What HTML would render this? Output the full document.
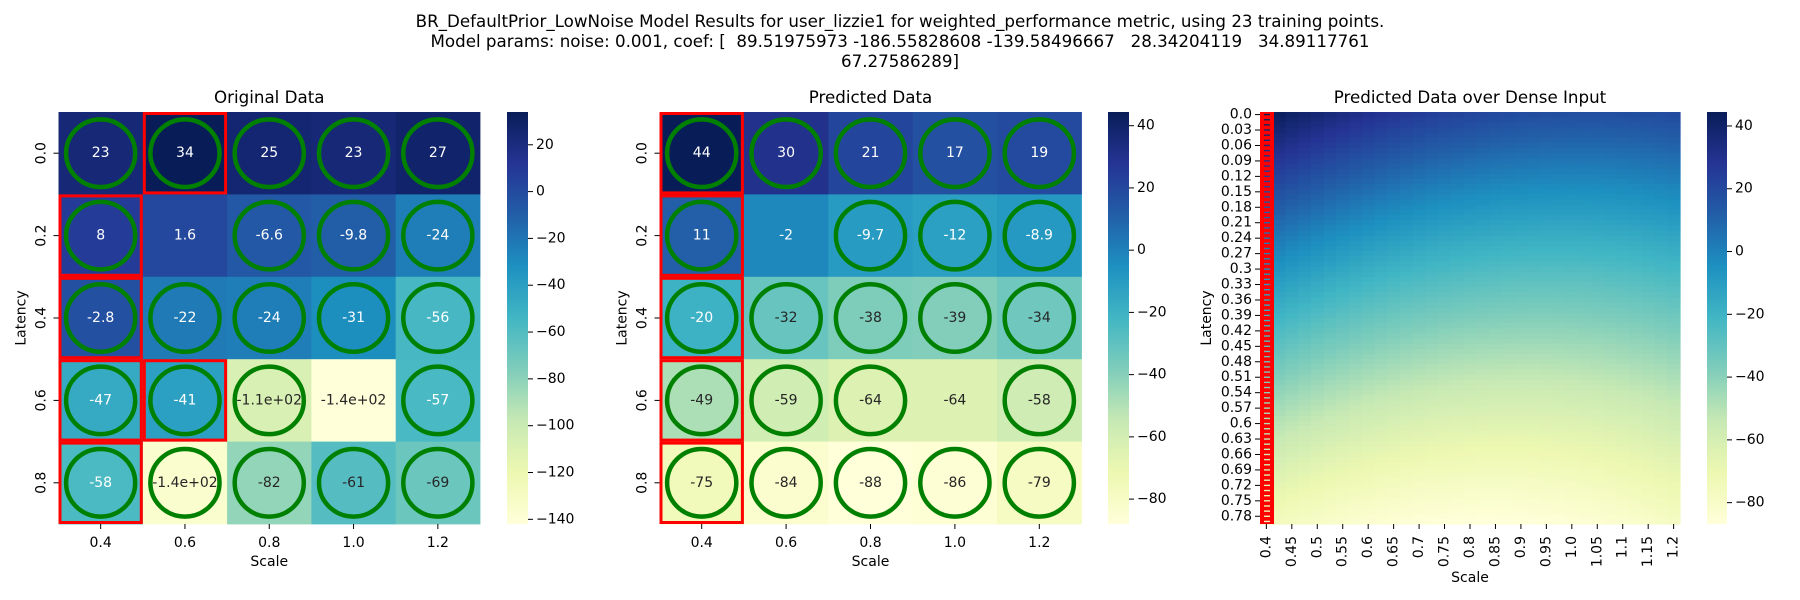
<!DOCTYPE html>
<html><head><meta charset="utf-8">
<style>
html,body{margin:0;padding:0;background:#fff;}
svg{display:block;font-family:"DejaVu Sans","Liberation Sans",sans-serif;}
</style></head>
<body>
<svg id="fig" width="1800" height="600" viewBox="0 0 1800 600" xmlns="http://www.w3.org/2000/svg">
<rect width="1800" height="600" fill="#fff"/>
<g font-size="16.7" text-anchor="middle" fill="#000">
<text x="900" y="27">BR_DefaultPrior_LowNoise Model Results for user_lizzie1 for weighted_performance metric, using 23 training points.</text>
<text x="900" y="47" xml:space="preserve">Model params: noise: 0.001, coef: [  89.51975973 -186.55828608 -139.58496667   28.34204119   34.89117761</text>
<text x="900" y="67">67.27586289]</text>
</g>
<g id="p1"></g>
<g id="p2"></g>
<g id="p3"></g>
</svg>
<script>
const scales = [0.4, 0.6, 0.8, 1.0, 1.2];
const latencies = [0.0, 0.2, 0.4, 0.6, 0.8];
const origValues = [
  [23, 34, 25, 23, 27],
  [8, 1.6, -6.6, -9.8, -24],
  [-2.8, -22, -24, -31, -56],
  [-47, -41, -108, -142, -57],
  [-58, -136, -82, -61, -69]
];
const predValues = [
  [44.4, 30, 21, 17, 19],
  [11, -2, -9.7, -12, -8.9],
  [-20, -32, -38, -39, -34],
  [-49, -59, -64, -64, -58],
  [-75, -84, -88, -86, -79]
];
const circleMask = [
  [1,1,1,1,1],
  [1,0,1,1,1],
  [1,1,1,1,1],
  [1,1,1,0,1],
  [1,1,1,1,1]
];
const origRedCells = [[0,1],[1,0],[2,0],[3,0],[3,1],[4,0]];
const predRedCells = [[0,0],[1,0],[2,0],[3,0],[4,0]];
const origCbTicks = [20, 0, -20, -40, -60, -80, -100, -120, -140];
const predCbTicks = [40, 20, 0, -20, -40, -60, -80];
const modelCoef = [89.51975973, -186.55828608, -139.58496667, 28.34204119, 34.89117761, 67.27586289];
const denseLatStep = 0.01, denseLatCount = 80;
const denseScaleStart = 0.4, denseScaleStep = 0.025, denseScaleCount = 33;

const NS = "http://www.w3.org/2000/svg";
const cmapStops = ["#ffffd9","#edf8b1","#c7e9b4","#7fcdbb","#41b6c4","#1d91c0","#225ea8","#253494","#081d58"];
function hex2rgb(h){return [parseInt(h.slice(1,3),16),parseInt(h.slice(3,5),16),parseInt(h.slice(5,7),16)];}
const stopRGB = cmapStops.map(hex2rgb);
function cmapRGB(t){
  t=Math.max(0,Math.min(1,t)); const p=t*8; const i=Math.min(7,Math.floor(p)); const f=p-i;
  const a=stopRGB[i], b=stopRGB[i+1];
  return [0,1,2].map(k=>Math.round(a[k]+(b[k]-a[k])*f));
}
function rgbStr(c){return "rgb("+c[0]+","+c[1]+","+c[2]+")";}
function lum(c){const l=c.map(v=>{v/=255;return v<=0.03928?v/12.92:Math.pow((v+0.055)/1.055,2.4);});return 0.2126*l[0]+0.7152*l[1]+0.0722*l[2];}
function el(tag, attrs, parent){const e=document.createElementNS(NS,tag);for(const k in attrs)e.setAttribute(k,attrs[k]);if(parent)parent.appendChild(e);return e;}
function fmt(v){
  if(Math.abs(v)>=100){let s=v.toExponential(1);return s.replace(/e([+-])(\d)$/,"e$10$2");}
  return String(Number(v.toPrecision(2)));
}
function numLabel(v){let s=String(Math.round(v*1000)/1000);if(s.indexOf(".")<0)s+=".0";return s;}
function cbLabel(v){return v<0?"\u2212"+Math.abs(v):String(v);}

function drawColorbar(g, x, y, w, h, vmin, vmax, ticks, id){
  const defs=el("defs",{},g);
  const lg=el("linearGradient",{id:id,x1:"0",y1:"1",x2:"0",y2:"0"},defs);
  cmapStops.forEach((c,i)=>el("stop",{offset:(i/8),"stop-color":c},lg));
  const r=el("rect",{x:x,y:y,width:w,height:h,fill:"url(#"+id+")"},g);
  
  
  ticks.forEach(t=>{
    const ty=y+h-(t-vmin)/(vmax-vmin)*h;
    el("line",{x1:x+w,x2:x+w+5,y1:ty,y2:ty,stroke:"#000","stroke-width":1},g);
    const tx=el("text",{x:x+w+8,y:ty,"font-size":"14","dominant-baseline":"central"},g);
    
    
    tx.textContent=cbLabel(t);
  });
}

function drawPanel(g, x0, y0, w, h, values, mask, reds, title, cbx, cbTicks, gid){
  let vmin=Infinity,vmax=-Infinity;
  values.forEach(r=>r.forEach(v=>{vmin=Math.min(vmin,v);vmax=Math.max(vmax,v);}));
  const nr=values.length, nc=values[0].length, cw=w/nc, ch=h/nr;
  values.forEach((row,i)=>row.forEach((v,j)=>{
    const c=cmapRGB((v-vmin)/(vmax-vmin));
    const r=el("rect",{x:x0+j*cw,y:y0+i*ch,width:cw+0.4,height:ch+0.4,fill:rgbStr(c)},g);
    
    
    if(mask[i][j]){
      const e=el("ellipse",{cx:x0+(j+0.5)*cw,cy:y0+(i+0.5)*ch,rx:cw*0.41,ry:ch*0.41,fill:"none",stroke:"#008000","stroke-width":4.5},g);
      
      
    }
  }));
  values.forEach((row,i)=>row.forEach((v,j)=>{
    const c=cmapRGB((v-vmin)/(vmax-vmin));
    const t=el("text",{x:x0+(j+0.5)*cw,y:y0+(i+0.5)*ch,"font-size":"14","text-anchor":"middle","dominant-baseline":"central",fill:lum(c)>0.408?"#262626":"#ffffff"},g);
    
    
    t.textContent=fmt(v);
  }));
  reds.forEach(([i,j])=>{
    const r=el("rect",{x:x0+j*cw+1.5,y:y0+i*ch+1.5,width:cw-3,height:ch-3,fill:"none",stroke:"#ff0000","stroke-width":3},g);
    
    
  });
  scales.forEach((s,j)=>{
    const x=x0+(j+0.5)*cw;
    el("line",{x1:x,x2:x,y1:y0+h,y2:y0+h+5,stroke:"#000"},g);
    const t=el("text",{x:x,y:y0+h+19,"font-size":"14","text-anchor":"middle","dominant-baseline":"central"},g);
    
    
    t.textContent=numLabel(s);
  });
  latencies.forEach((l,i)=>{
    const y=y0+(i+0.5)*ch;
    el("line",{x1:x0-5,x2:x0,y1:y,y2:y,stroke:"#000"},g);
    const t=el("text",{x:0,y:0,"font-size":"14","text-anchor":"middle","dominant-baseline":"central",transform:"translate("+(x0-17)+","+y+") rotate(-90)"},g);
    
    
    t.textContent=numLabel(l);
  });
  const tt=el("text",{x:x0+w/2,y:y0-9,"font-size":"16.7","text-anchor":"middle"},g);
  
  
  tt.textContent=title;
  const xl=el("text",{x:x0+w/2,y:y0+h+42,"font-size":"14","text-anchor":"middle"},g);
  
  
  xl.textContent="Scale";
  const yl=el("text",{x:0,y:0,"font-size":"14","text-anchor":"middle","dominant-baseline":"central",transform:"translate("+(x0-37)+","+(y0+h/2)+") rotate(-90)"},g);
  
  
  yl.textContent="Latency";
  drawColorbar(g, cbx, y0, 21, h, vmin, vmax, cbTicks, gid);
}

const Y0=112, H=412;
drawPanel(document.getElementById("p1"), 58.5, Y0, 421.5, H, origValues, circleMask, origRedCells, "Original Data", 507, origCbTicks, "cb1");
drawPanel(document.getElementById("p2"), 659.5, Y0, 422, H, predValues, circleMask, predRedCells, "Predicted Data", 1108, predCbTicks, "cb2");

// dense panel
(function(){
  const g=document.getElementById("p3");
  const x0=1260, w=420, h=H, y0=Y0;
  function predict(l,s){const f=[1,l,s,l*l,l*s,s*s];let v=0;for(let k=0;k<6;k++)v+=modelCoef[k]*f[k];return v;}
  const grid=[];let vmin=Infinity,vmax=-Infinity;
  for(let i=0;i<denseLatCount;i++){const row=[];for(let j=0;j<denseScaleCount;j++){const v=predict(i*denseLatStep,denseScaleStart+j*denseScaleStep);row.push(v);vmin=Math.min(vmin,v);vmax=Math.max(vmax,v);}grid.push(row);}
  const cw=w/denseScaleCount, ch=h/denseLatCount;
  const cells=el("g",{},g);
  
  
  grid.forEach((row,i)=>row.forEach((v,j)=>{
    el("rect",{x:x0+j*cw,y:y0+i*ch,width:cw+0.6,height:ch+0.6,fill:rgbStr(cmapRGB((v-vmin)/(vmax-vmin)))},cells);
  }));
  const band=el("rect",{x:x0,y:y0,width:14,height:h,fill:"#ff0000"},g);
  
  
  grid.forEach((row,i)=>{
    el("rect",{x:x0+4,y:y0+(i+0.5)*ch-0.7,width:6,height:1.4,fill:rgbStr(cmapRGB((row[0]-vmin)/(vmax-vmin)))},g);
  });
  for(let i=0;i<denseLatCount;i+=3){
    const y=y0+(i+0.5)*ch;
    el("line",{x1:x0-5,x2:x0,y1:y,y2:y,stroke:"#000"},g);
    const t=el("text",{x:x0-8,y:y,"font-size":"14","text-anchor":"end","dominant-baseline":"central"},g);
    
    
    t.textContent=numLabel(i*denseLatStep);
  }
  for(let j=0;j<denseScaleCount;j+=2){
    const x=x0+(j+0.5)*cw;
    el("line",{x1:x,x2:x,y1:y0+h,y2:y0+h+5,stroke:"#000"},g);
    const t=el("text",{x:0,y:0,"font-size":"14","text-anchor":"end","dominant-baseline":"central",transform:"translate("+x+","+(y0+h+12)+") rotate(-90)"},g);
    
    
    t.textContent=numLabel(denseScaleStart+j*denseScaleStep);
  }
  const tt=el("text",{x:x0+w/2,y:y0-9,"font-size":"16.7","text-anchor":"middle"},g);
  
  
  tt.textContent="Predicted Data over Dense Input";
  const xl=el("text",{x:x0+w/2,y:582,"font-size":"14","text-anchor":"middle"},g);
  
  
  xl.textContent="Scale";
  const yl=el("text",{x:0,y:0,"font-size":"14","text-anchor":"middle","dominant-baseline":"central",transform:"translate(1207,"+(y0+h/2)+") rotate(-90)"},g);
  
  
  yl.textContent="Latency";
  drawColorbar(g, 1707, y0, 20, h, vmin, vmax, predCbTicks, "cb3");
})();
</script>
</body></html>
